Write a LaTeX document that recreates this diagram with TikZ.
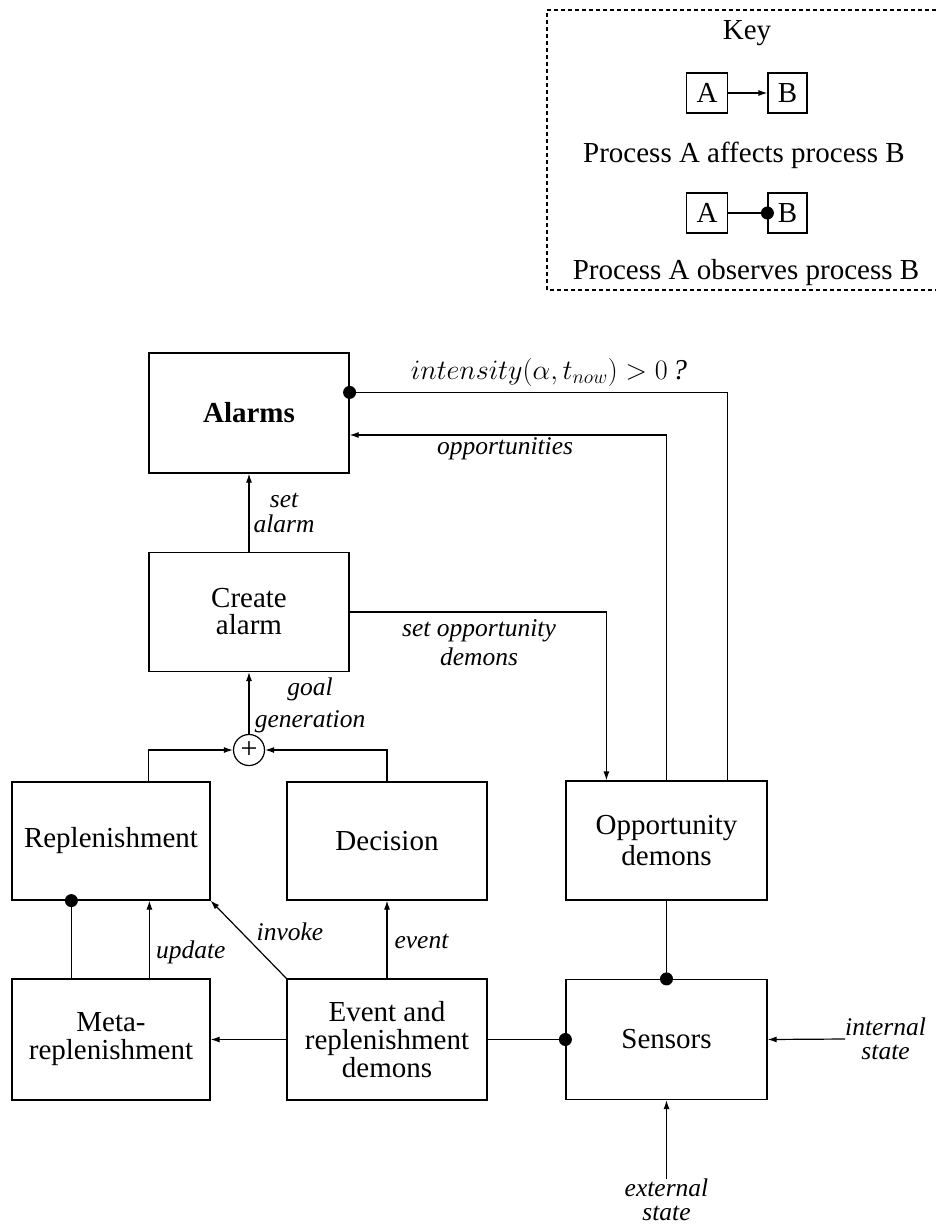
\documentclass[tikz,border=0pt]{standalone}
\usepackage{graphicx}
\usepackage{fontspec}
\setmainfont{Liberation Serif}
\usetikzlibrary{arrows.meta,calc}

% text sizes for process boxes and connector labels
\newcommand{\procfont}{\fontsize{29}{28}\selectfont}
\newcommand{\lblfont}{\fontsize{25.5}{26}\selectfont\itshape}

\tikzset{
  process/.style={draw, line width=1.2pt, rectangle, inner sep=0pt,
    align=center, font=\procfont},
  keybox/.style={process, minimum width=41pt, minimum height=40pt},
  lbl/.style={inner sep=0pt, align=center, font=\lblfont},
  affects/.style={draw, line width=1.2pt, -{Latex[length=9pt,width=6pt]}},
  observes/.style={draw, line width=1.2pt},
  obsdot/.style={circle, fill, inner sep=0pt, minimum size=13pt},
  plusnode/.style={draw, circle, line width=1.2pt, minimum size=31pt, inner sep=0pt,
    font=\fontsize{30}{30}\selectfont},
}

\begin{document}
\begin{tikzpicture}[x=1pt, y=-1pt]
\useasboundingbox (0,0) rectangle (935,1227);

% ---------- key ----------
\draw[line width=1.1pt, dash pattern=on 4pt off 3pt]
  (936,10) -- (547,10) -- (547,290) -- (936,290);
\node[font=\procfont] (keytitle) at (747,33) {Key};
\node[keybox] (ka1) at (707,93) {A};
\node[keybox, minimum width=39pt] (kb1) at (787.5,93) {B};
\draw[affects] (ka1) -- (kb1);
\node[font=\procfont] (keytxt1) at (744,155) {Process A affects process B};
\node[keybox] (ka2) at (707,213) {A};
\node[keybox, minimum width=39pt] (kb2) at (787.5,213) {B};
\draw[observes] (ka2) -- (kb2.west) node[obsdot] {};
\node[font=\procfont] (keytxt2) at (746,273) {Process A observes process B};

% ---------- processes ----------
\node[process, minimum width=200pt, minimum height=120pt, font=\procfont\bfseries]
  (alarms) at (249,413) {Alarms};
\node[process, minimum width=200pt, minimum height=119pt,
  font=\fontsize{29}{27}\selectfont] (create) at (249,612) {Create\\alarm};
\node[plusnode] (plus) at (249,750) {+};
\node[process, minimum width=198pt, minimum height=118pt] (repl) at (111,841) {Replenishment};
\node[process, minimum width=200pt, minimum height=118pt] (decision) at (387,841) {Decision};
\node[process, minimum width=201pt, minimum height=119pt,
  font=\fontsize{29}{31}\selectfont] (opp) at (666.5,840.5) {Opportunity\\demons};
\node[process, minimum width=198pt, minimum height=121pt] (meta) at (111,1039.5)
  {Meta-\\replenishment};
\node[process, minimum width=200pt, minimum height=121pt] (event) at (387,1039.5)
  {Event and\\replenishment\\demons};
\node[process, minimum width=201pt, minimum height=120pt] (sensors) at (666.5,1039.5) {Sensors};

% ---------- connectors ----------
\draw[affects] (create) -- (alarms)
  node[lbl, midway, right=4pt, font=\fontsize{25.5}{25}\selectfont\itshape] {set\\alarm};

\draw[observes] ($(opp.north east)+(-40,0)$) |- ($(alarms.north east)+(0,40)$) node[obsdot] {};
\node[lbl] (intlbl) at (549,372) {\scalebox{1.13}{$intensity(\alpha,t_{now})>0$\,?}};

\draw[affects] (opp.north) |- ($(alarms.east)+(0,22)$);
\node[lbl] (opplbl) at (505,449) {opportunities};

\draw[affects] (create.east) -| ($(opp.north west)+(41,0)$);
\node[lbl, font=\fontsize{25.5}{29}\selectfont\itshape] (setopplbl) at (479,643)
  {set opportunity\\demons};

\draw[affects] (plus) -- (create);
\node[lbl, font=\fontsize{25.5}{32}\selectfont\itshape] (goallbl) at (310,705) {goal\\generation};

\draw[affects] ($(repl.north west)+(137,0)$) |- (plus.west);
\draw[affects] (decision.north) |- (plus.east);

\draw[observes] ($(meta.north west)+(60,0)$) -- ($(repl.south west)+(60,0)$) node[obsdot] {};
\draw[affects] ($(meta.north west)+(138,0)$) -- ($(repl.south west)+(138,0)$)
  node[lbl, pos=0.33, right=6pt] {update};

\draw[affects] (event.north west) -- (repl.south east);
\node[lbl] (invokelbl) at (290,932) {invoke};

\draw[affects] (event.north) -- (decision.south)
  node[lbl, pos=0.48, right=7pt] {event};

\draw[affects] (event.west) -- (meta.east);
\draw[observes] (event.east) -- (sensors.west) node[obsdot] {};
\draw[observes] (opp.south) -- (sensors.north) node[obsdot] {};

\node[lbl, anchor=west, font=\fontsize{25.5}{24}\selectfont\itshape] (intstate) at (845,1039)
  {internal\\state};
\draw[affects] (intstate.west) -- (sensors.east);

\node[lbl, anchor=north, font=\fontsize{25.5}{24}\selectfont\itshape] (extstate) at (666.5,1179)
  {external\\state};
\draw[affects] (extstate.north) -- (sensors.south);
\end{tikzpicture}
\end{document}
